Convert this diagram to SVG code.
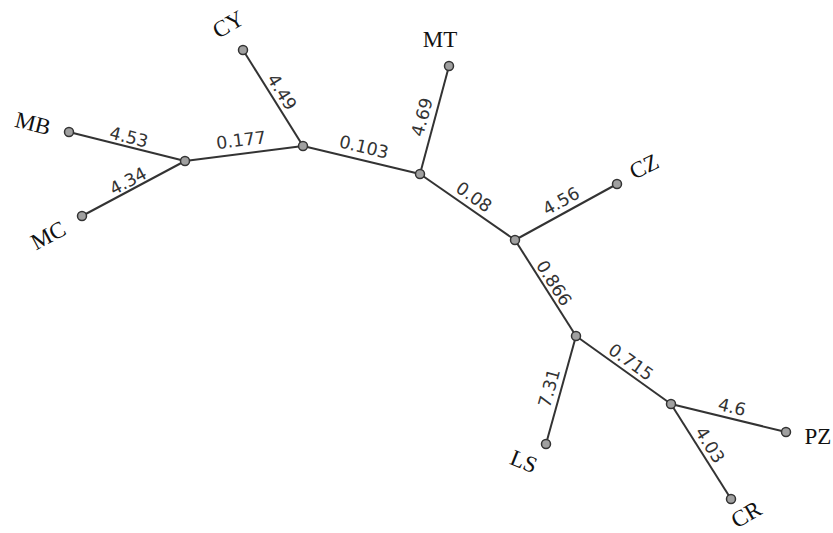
<svg xmlns="http://www.w3.org/2000/svg" width="833" height="533" viewBox="0 0 833 533">
<style>
.e{stroke:#333;stroke-width:2;fill:none}
.n{fill:#a0a0a0;stroke:#333;stroke-width:1.5}
.el{font-family:"DejaVu Sans",sans-serif;font-size:17.5px;fill:#333;text-anchor:middle}
.lf{font-family:"Liberation Serif",serif;font-size:23px;fill:#111;text-anchor:middle}
</style>
<rect width="833" height="533" fill="#fff"/>
<g id="connectors">
<line class="e" x1="185" y1="161" x2="69" y2="132"/>
<line class="e" x1="185" y1="161" x2="82" y2="216"/>
<line class="e" x1="185" y1="161" x2="303" y2="146"/>
<line class="e" x1="303" y1="146" x2="243" y2="50"/>
<line class="e" x1="303" y1="146" x2="420" y2="174"/>
<line class="e" x1="420" y1="174" x2="449" y2="66"/>
<line class="e" x1="420" y1="174" x2="515" y2="240"/>
<line class="e" x1="515" y1="240" x2="617" y2="184"/>
<line class="e" x1="515" y1="240" x2="576" y2="336"/>
<line class="e" x1="576" y1="336" x2="546" y2="444"/>
<line class="e" x1="576" y1="336" x2="671" y2="404"/>
<line class="e" x1="671" y1="404" x2="786" y2="432"/>
<line class="e" x1="671" y1="404" x2="731" y2="499"/>
<text class="el" transform="translate(129 137) rotate(14)" dy="0.35em">4.53</text>
<text class="el" transform="translate(128 181) rotate(-28)" dy="0.35em">4.34</text>
<text class="el" transform="translate(241 140) rotate(-7)" dy="0.35em">0.177</text>
<text class="el" transform="translate(282 92) rotate(58)" dy="0.35em">4.49</text>
<text class="el" transform="translate(364 147) rotate(13.5)" dy="0.35em">0.103</text>
<text class="el" transform="translate(422 117) rotate(-75)" dy="0.35em">4.69</text>
<text class="el" transform="translate(474 197) rotate(35)" dy="0.35em">0.08</text>
<text class="el" transform="translate(561 201) rotate(-29)" dy="0.35em">4.56</text>
<text class="el" transform="translate(554 283) rotate(57.6)" dy="0.35em">0.866</text>
<text class="el" transform="translate(549 388) rotate(-74.5)" dy="0.35em">7.31</text>
<text class="el" transform="translate(631 362) rotate(35.6)" dy="0.35em">0.715</text>
<text class="el" transform="translate(732 407) rotate(13.7)" dy="0.35em">4.6</text>
<text class="el" transform="translate(710 445) rotate(57.7)" dy="0.35em">4.03</text>
</g>
<g id="nA"><circle class="n" cx="185" cy="161" r="4.5"/></g>
<g id="nB"><circle class="n" cx="303" cy="146" r="4.5"/></g>
<g id="nC"><circle class="n" cx="420" cy="174" r="4.5"/></g>
<g id="nD"><circle class="n" cx="515" cy="240" r="4.5"/></g>
<g id="nE"><circle class="n" cx="576" cy="336" r="4.5"/></g>
<g id="nF"><circle class="n" cx="671" cy="404" r="4.5"/></g>
<g id="MB"><circle class="n" cx="69" cy="132" r="4.5"/><text class="lf" transform="translate(33 123) rotate(14)" dy="0.35em">MB</text></g>
<g id="MC"><circle class="n" cx="82" cy="216" r="4.5"/><text class="lf" transform="translate(48 235) rotate(-28)" dy="0.35em">MC</text></g>
<g id="CY"><circle class="n" cx="243" cy="50" r="4.5"/><text class="lf" transform="translate(228 24) rotate(-30)" dy="0.35em">CY</text></g>
<g id="MT"><circle class="n" cx="449" cy="66" r="4.5"/><text class="lf" transform="translate(440 39)" dy="0.35em">MT</text></g>
<g id="CZ"><circle class="n" cx="617" cy="184" r="4.5"/><text class="lf" transform="translate(644 166) rotate(-26)" dy="0.35em">CZ</text></g>
<g id="LS"><circle class="n" cx="546" cy="444" r="4.5"/><text class="lf" transform="translate(524 461) rotate(22)" dy="0.35em">LS</text></g>
<g id="PZ"><circle class="n" cx="786" cy="432" r="4.5"/><text class="lf" transform="translate(818 436)" dy="0.35em">PZ</text></g>
<g id="CR"><circle class="n" cx="731" cy="499" r="4.5"/><text class="lf" transform="translate(746 514) rotate(-30)" dy="0.35em">CR</text></g>
</svg>
